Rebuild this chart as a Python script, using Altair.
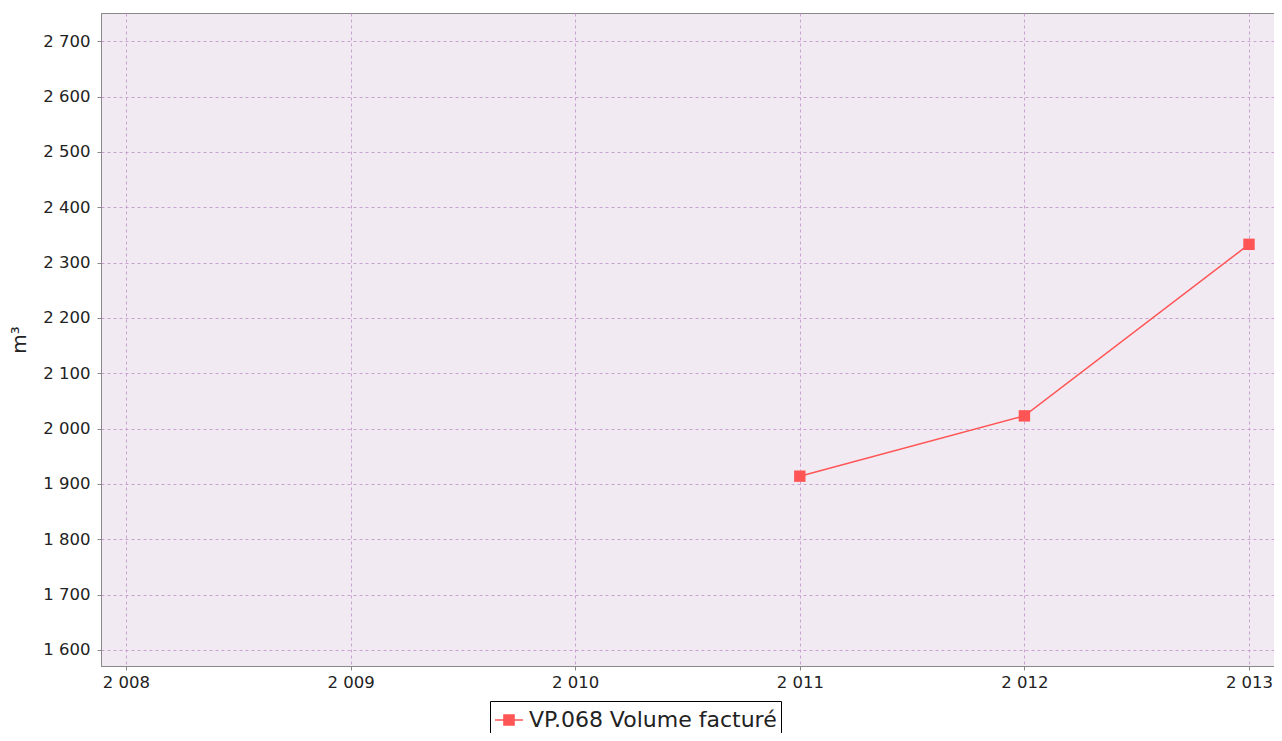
import altair as alt
import pandas as pd

# ---- data ----
years = [2011, 2012, 2013]
volumes = [1914, 2023, 2333]
series_name = "VP.068 Volume facturé"
x_tick_values = [2008, 2009, 2010, 2011, 2012, 2013]
y_tick_values = [1600, 1700, 1800, 1900, 2000, 2100, 2200, 2300, 2400, 2500, 2600, 2700]
x_domain = [2007.8887, 2013.1113]
y_domain = [1571, 2751]

df = pd.DataFrame({"year": years, "volume": volumes, "series": [series_name] * len(years)})

FONT = "DejaVu Sans"
RED = "#ff5555"
GRID = "#c9a3d0"
fmt = "replace(format(datum.value, ','), ',', ' ')"

x_enc = alt.X(
    "year:Q",
    scale=alt.Scale(domain=x_domain, nice=False, zero=False),
    axis=alt.Axis(
        values=x_tick_values, labelExpr=fmt, title=None,
        grid=True, gridDash=[3, 3], gridColor=GRID, gridWidth=1,
        domainColor="#888888", tickColor="#888888", tickSize=4,
        labelFont=FONT, labelFontSize=16.5, labelColor="#222222",
        labelPadding=4, labelFlush=False,
    ),
)
y_enc = alt.Y(
    "volume:Q",
    scale=alt.Scale(domain=y_domain, nice=False, zero=False),
    axis=alt.Axis(
        values=y_tick_values, labelExpr=fmt, title="m³",
        grid=True, gridDash=[3, 3], gridColor=GRID, gridWidth=1,
        domainColor="#888888", tickColor="#888888", tickSize=4,
        labelFont=FONT, labelFontSize=16.5, labelColor="#222222",
        labelPadding=7, labelFlush=False,
        titleFont=FONT, titleFontSize=20, titleFontWeight="normal",
        titleColor="#222222", titlePadding=13,
    ),
)

base = alt.Chart(df)

line = base.mark_line(color=RED, strokeWidth=1.5).encode(x=x_enc, y=y_enc)

legend_symbol = "M-1,0H1M-0.36,-0.36H0.36V0.36H-0.36Z"

points = base.mark_point(shape="square", filled=True, size=130, opacity=1).encode(
    x=x_enc,
    y=y_enc,
    color=alt.Color(
        "series:N",
        scale=alt.Scale(domain=[series_name], range=[RED]),
        legend=alt.Legend(
            title=None, orient="none", legendX=389, legendY=688,
            symbolType=legend_symbol, symbolSize=784,
            symbolFillColor=RED, symbolStrokeColor=RED, symbolStrokeWidth=1.5,
            symbolOpacity=1,
            labelFont=FONT, labelFontSize=22, labelColor="#222222",
            labelLimit=1000,
            labelOffset=5, strokeColor="black", fillColor="white", padding=4,
        ),
    ),
)

chart = (
    alt.layer(line, points)
    .properties(
        width=1173, height=653,
        autosize=alt.AutoSizeParams(type="none"),
        padding={"left": 93, "top": 5, "right": 0, "bottom": 67},
        background="white",
    )
    .configure_view(fill="#f2eaf3", stroke="#888888", strokeWidth=1)
)

chart.save("out.html", embed_options={"renderer": "svg", "actions": False})
